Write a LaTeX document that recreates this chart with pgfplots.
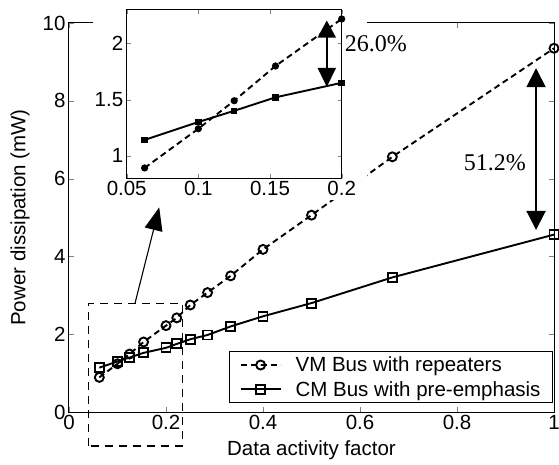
\documentclass[border=0pt]{standalone}
\usepackage{fontspec}
\setmainfont{Liberation Sans}
\newfontfamily\timesfont{Liberation Serif}
\usepackage{pgfplots}
\usepackage{pgfplotstable}
\pgfplotsset{compat=1.18}
\usetikzlibrary{arrows.meta}

% x = data activity factor, vm / cm = power (mW)
\pgfplotstableread{
x      vm    cm
0.0625 0.89  1.14
0.1    1.24  1.30
0.125  1.49  1.40
0.1538 1.80  1.52
0.2    2.22  1.65
0.2222 2.42  1.75
0.25   2.75  1.87
0.2857 3.07  1.98
0.3333 3.50  2.20
0.4    4.18  2.46
0.5    5.06  2.80
0.6667 6.56  3.46
1      9.35  4.56
}\datatable

\newcommand{\bigfont}{\fontsize{20.5}{24}\selectfont}

\begin{document}
\begin{tikzpicture}
\begin{axis}[
    at={(0pt,0pt)}, anchor=south west,
    width=485pt, height=389pt, scale only axis,
    xmin=0, xmax=1, ymin=0, ymax=10,
    xtick={0,0.2,0.4,0.6,0.8,1},
    ytick={0,2,4,6,8,10},
    tick align=inside, major tick length=5pt,
    axis line style={line width=1pt},
    /pgf/number format/assume math mode=true,
    tick label style={font=\bigfont},
    label style={font=\bigfont},
    xlabel={Data activity factor},
    ylabel={Power dissipation (mW)},
    xlabel style={at={(axis description cs:0.5,-0.098)}, anchor=center},
    ylabel style={at={(axis description cs:-0.101,0.5)}, anchor=center},
    clip=false,
    legend style={at={(axis description cs:0.998,0.023)}, anchor=south east,
        draw=black, line width=1pt, font=\bigfont, row sep=4pt,
        inner xsep=10pt, inner ysep=3pt},
    legend cell align=left,
    legend image code/.code={
        \draw[mark repeat=2, mark phase=2] plot coordinates {(0pt,0pt) (20pt,0pt) (40pt,0pt)};
        \path (52pt,0pt);},
]
\addplot[black, line width=1.9pt, dash pattern=on 6pt off 4pt,
    mark=o, mark size=4.5pt, mark options={solid, line width=1.9pt}]
    table[x=x, y=vm] {\datatable};
\addlegendentry{VM Bus with repeaters}
\addplot[black, line width=1.9pt,
    mark=square, mark size=4.5pt, mark options={solid, line width=1.9pt}]
    table[x=x, y=cm] {\datatable};
\addlegendentry{CM Bus with pre-emphasis}

\draw[line width=1.5pt, dash pattern=on 8pt off 6pt]
    (axis cs:0.04,-0.87) rectangle (axis cs:0.234,2.79);
\draw[line width=1.1pt, -{Triangle[width=18pt,length=23pt]}]
    (axis cs:0.136,2.79) -- (axis cs:0.186,5.26);
\draw[line width=1.8pt, {Triangle[width=19pt,length=19pt]}-{Triangle[width=19pt,length=19pt]}]
    (axis cs:0.963,8.84) -- (axis cs:0.963,4.68);
\node[font=\timesfont\fontsize{24}{28}\selectfont] at (axis cs:0.878,6.40) {51.2\%};
\end{axis}

% white area under the inset
\fill[white] (24pt,212pt) rectangle (298pt,412pt);

\begin{axis}[
    at={(57.7pt,234pt)}, anchor=south west,
    width=215pt, height=168pt, scale only axis,
    xmin=0.05, xmax=0.2, ymin=0.8, ymax=2.3,
    xtick={0.05,0.1,0.15,0.2}, xticklabels={0.05,0.1,0.15,0.2},
    ytick={1,1.5,2}, yticklabels={1,1.5,2},
    tick align=inside, major tick length=4pt,
    axis line style={line width=1pt},
    axis background/.style={fill=white},
    tick label style={font=\bigfont},
    clip=false,
]
\addplot[black, line width=1.9pt, dash pattern=on 6pt off 4pt,
    mark=*, mark size=2.6pt, mark options={solid},
    restrict x to domain=0:0.21]
    table[x=x, y=vm] {\datatable};
\addplot[black, line width=1.9pt,
    mark=square*, mark size=2.3pt, mark options={solid},
    restrict x to domain=0:0.21]
    table[x=x, y=cm] {\datatable};
\draw[line width=1.8pt, {Triangle[width=18pt,length=17pt]}-{Triangle[width=18pt,length=19pt]}]
    (axis cs:0.1896,2.206) -- (axis cs:0.1896,1.613);
\node[anchor=west, inner sep=0pt, font=\timesfont\fontsize{24}{28}\selectfont]
    at (axis cs:0.2,2.0) {\hspace{3pt}26.0\%};
\end{axis}

\pgfresetboundingbox
\path[use as bounding box] (-69pt,-52pt) rectangle (490pt,412pt);
\end{tikzpicture}
\end{document}
